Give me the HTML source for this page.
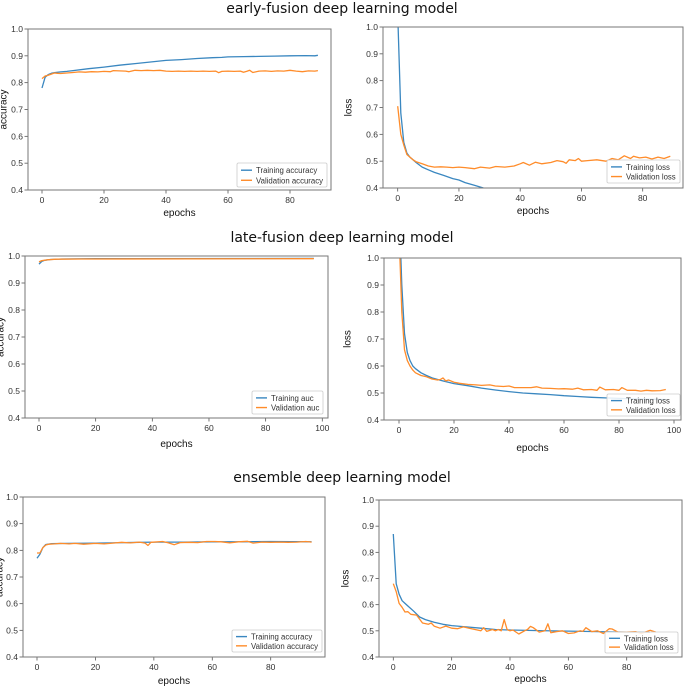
<!DOCTYPE html>
<html><head><meta charset="utf-8"><style>
body{margin:0;background:#fff;width:685px;height:686px;overflow:hidden}
svg{display:block}
text{font-family:"Liberation Sans","DejaVu Sans",sans-serif;fill:#333}
</style></head><body>
<svg id="fig" width="685" height="686"></svg>
<script>
// ---- data ----
const p1TrainX=[0,1,2,3,4,6,8,10,15,20,25,30,35,40,45,50,55,58,60,65,70,75,80,85,88,89];
const p1TrainY=[0.78,0.82,0.83,0.835,0.837,0.84,0.842,0.845,0.852,0.858,0.865,0.871,0.877,0.883,0.886,0.89,0.893,0.894,0.896,0.897,0.898,0.899,0.9,0.901,0.9,0.902];
const p1ValX=[0,1,2,3,4,5,6,8,10,12,14,16,18,20,22,23,25,27,28,30,32,34,36,38,40,42,44,46,48,50,52,54,56,57,58,60,62,64,65,66,67,68,70,72,74,76,78,80,82,84,86,88,89];
const p1ValY=[0.815,0.825,0.828,0.832,0.836,0.835,0.834,0.836,0.838,0.84,0.839,0.841,0.84,0.842,0.841,0.845,0.844,0.843,0.841,0.846,0.845,0.846,0.845,0.846,0.843,0.842,0.843,0.842,0.843,0.842,0.843,0.842,0.843,0.837,0.842,0.843,0.842,0.843,0.839,0.842,0.846,0.838,0.843,0.844,0.842,0.844,0.843,0.846,0.843,0.841,0.844,0.843,0.845];
const p2TrainX=[0,1,2,3,4,5,6,8,10,12,15,18,20,22,25,28,30];
const p2TrainY=[1.05,0.68,0.57,0.53,0.515,0.505,0.495,0.478,0.468,0.458,0.447,0.435,0.43,0.42,0.41,0.4,0.395];
const p2ValX=[0,1,2,3,4,5,6,8,10,12,14,16,18,20,22,25,27,30,32,35,38,40,41,43,45,47,50,52,54,55,56,58,59,60,62,65,68,70,72,74,76,77,79,81,83,85,87,89];
const p2ValY=[0.705,0.6,0.56,0.525,0.515,0.505,0.498,0.49,0.482,0.478,0.479,0.478,0.476,0.478,0.476,0.472,0.478,0.474,0.48,0.478,0.482,0.49,0.495,0.485,0.496,0.49,0.495,0.502,0.498,0.492,0.505,0.502,0.51,0.5,0.502,0.505,0.5,0.51,0.505,0.52,0.51,0.518,0.512,0.515,0.508,0.515,0.51,0.518];
const p3TrainX=[0,1,2,4,8,20,97];
const p3TrainY=[0.97,0.98,0.984,0.987,0.989,0.99,0.991];
const p3ValX=[0,1,3,6,15,97];
const p3ValY=[0.978,0.983,0.986,0.988,0.989,0.99];
const p4TrainX=[0,1,2,3,4,5,6,8,10,12,15,20,25,30,35,40,45,50,55,60,65,70,75,80,85,90,97];
const p4TrainY=[1.2,0.9,0.72,0.65,0.62,0.6,0.59,0.575,0.565,0.556,0.547,0.535,0.527,0.518,0.511,0.505,0.5,0.497,0.494,0.49,0.487,0.484,0.482,0.48,0.478,0.477,0.476];
const p4ValX=[0,1,2,3,4,5,6,8,10,12,14,15,16,17,18,20,22,25,28,30,33,35,38,40,42,45,48,50,52,55,58,60,63,65,67,70,72,73,75,78,80,81,83,86,88,90,92,95,97];
const p4ValY=[1.1,0.8,0.66,0.62,0.6,0.585,0.575,0.565,0.56,0.552,0.548,0.55,0.556,0.545,0.548,0.54,0.536,0.532,0.53,0.528,0.53,0.526,0.524,0.526,0.52,0.52,0.52,0.523,0.518,0.517,0.515,0.516,0.514,0.518,0.512,0.513,0.51,0.522,0.512,0.513,0.51,0.52,0.51,0.51,0.507,0.51,0.508,0.509,0.513];
const p5TrainX=[0,1,2,3,5,10,20,30,40,50,60,70,80,94];
const p5TrainY=[0.77,0.785,0.81,0.822,0.825,0.826,0.827,0.829,0.831,0.831,0.832,0.832,0.833,0.832];
const p5ValX=[0,1,2,3,4,6,8,11,13,16,20,23,26,29,32,35,37,38,39,43,45,47,49,52,55,58,61,63,66,69,72,74,77,80,83,86,89,92,94];
const p5ValY=[0.79,0.79,0.81,0.82,0.823,0.824,0.826,0.824,0.826,0.823,0.826,0.824,0.827,0.83,0.828,0.831,0.827,0.818,0.83,0.833,0.828,0.821,0.829,0.83,0.829,0.833,0.833,0.832,0.828,0.832,0.834,0.827,0.831,0.83,0.831,0.83,0.831,0.833,0.831];
const p6TrainX=[0,1,2,3,4,5,7,9,11,14,17,20,25,30,35,40,50,60,70,80,88];
const p6TrainY=[0.87,0.68,0.64,0.615,0.605,0.595,0.575,0.553,0.543,0.533,0.525,0.52,0.515,0.51,0.505,0.503,0.501,0.499,0.497,0.495,0.494];
const p6ValX=[0,1,2,3,4,5,6,8,10,12,13,14,16,18,20,22,24,26,28,30,31,32,34,35,36,37,38,39,40,41,43,45,46,47,48,50,52,53,54,56,58,60,62,64,65,66,68,70,72,74,75,77,80,83,85,88,90];
const p6ValY=[0.68,0.65,0.605,0.59,0.572,0.573,0.563,0.56,0.53,0.525,0.53,0.518,0.51,0.518,0.51,0.508,0.515,0.51,0.505,0.5,0.512,0.498,0.505,0.5,0.505,0.5,0.543,0.505,0.5,0.503,0.488,0.5,0.505,0.517,0.512,0.495,0.5,0.527,0.493,0.497,0.5,0.49,0.492,0.5,0.498,0.512,0.497,0.5,0.49,0.508,0.507,0.495,0.495,0.497,0.49,0.502,0.495];
const yTicks=[0.4,0.5,0.6,0.7,0.8,0.9,1.0];
const xTicks80=[0,20,40,60,80];
const xTicks100=[0,20,40,60,80,100];

const panels=[
 {id:'early-accuracy',L:28,R:331,T:29,B:190,x0:42,x1:290,xv1:80,xt:xTicks80,yl:'accuracy',ylx:4,xly:216,lg:[237,163,90,24],n1:'Training accuracy',n2:'Validation accuracy',s:[[p1TrainX,p1TrainY],[p1ValX,p1ValY]]},
 {id:'early-loss',L:383,R:683,T:27,B:188,x0:397.7,x1:642.7,xv1:80,xt:xTicks80,yl:'loss',ylx:349,xly:214,lg:[607,160,73,23],n1:'Training loss',n2:'Validation loss',s:[[p2TrainX,p2TrainY],[p2ValX,p2ValY]]},
 {id:'late-auc',L:25,R:328,T:256,B:418,x0:39,x1:322.3,xv1:100,xt:xTicks100,yl:'accuracy',ylx:1,xly:447,lg:[252,391,71,23],n1:'Training auc',n2:'Validation auc',s:[[p3TrainX,p3TrainY],[p3ValX,p3ValY]]},
 {id:'late-loss',L:384,R:681,T:258,B:420,x0:399,x1:674,xv1:100,xt:xTicks100,yl:'loss',ylx:348,xly:451,lg:[607,394,73,22],n1:'Training loss',n2:'Validation loss',s:[[p4TrainX,p4TrainY],[p4ValX,p4ValY]]},
 {id:'ensemble-accuracy',L:23,R:325,T:497,B:657,x0:37,x1:270.7,xv1:80,xt:xTicks80,yl:'accuracy',ylx:0,xly:684,lg:[232,630,90,22],n1:'Training accuracy',n2:'Validation accuracy',s:[[p5TrainX,p5TrainY],[p5ValX,p5ValY]]},
 {id:'ensemble-loss',L:379,R:682,T:500,B:657,x0:393.3,x1:626.7,xv1:80,xt:xTicks80,yl:'loss',ylx:346,xly:682,lg:[605,632,73,21],n1:'Training loss',n2:'Validation loss',s:[[p6TrainX,p6TrainY],[p6ValX,p6ValY]]}
];
const titles=[['early-fusion deep learning model',13,'title-early-fusion'],['late-fusion deep learning model',242,'title-late-fusion'],['ensemble deep learning model',482,'title-ensemble']];
const NS='http://www.w3.org/2000/svg';
const svg=document.getElementById('fig');
function mk(tag,attrs,parent,txt){const e=document.createElementNS(NS,tag);for(const k in attrs)e.setAttribute(k,attrs[k]);if(txt!==undefined)e.textContent=txt;(parent||svg).appendChild(e);return e;}
titles.forEach(t=>{
 const e=mk('text',{x:342,y:t[1],'text-anchor':'middle','font-size':'14','style':'fill:#111;font-family:\"DejaVu Sans\",sans-serif'},svg,t[0]);
 
 
});
const colors=['#3a87c0','#ff8c2a'];
panels.forEach((p,pi)=>{
 const g=mk('g',{});
 
 
 const sx=v=>p.x0+(v/p.xv1)*(p.x1-p.x0);
 const sy=v=>p.B-(v-0.4)/0.6*(p.B-p.T);
 const cid='clip'+pi;
 const cp=mk('clipPath',{id:cid},g);mk('rect',{x:p.L,y:p.T,width:p.R-p.L,height:p.B-p.T},cp);
 yTicks.forEach(v=>{
  mk('line',{x1:p.L-3.5,x2:p.L,y1:sy(v),y2:sy(v),stroke:'#555','stroke-width':0.8},g);
  const t=mk('text',{x:p.L-5,y:sy(v)+3,'text-anchor':'end','font-size':'8.5'},g,v.toFixed(1));
  
  
 });
 p.xt.forEach(v=>{
  mk('line',{x1:sx(v),x2:sx(v),y1:p.B,y2:p.B+3.5,stroke:'#555','stroke-width':0.8},g);
  const t=mk('text',{x:sx(v),y:p.B+13,'text-anchor':'middle','font-size':'8.5'},g,String(v));
  
  
 });
 const xl=mk('text',{x:(p.L+p.R)/2,y:p.xly,'text-anchor':'middle','font-size':'10','style':'fill:#111'},g,'epochs');
 
 
 const cy=(p.T+p.B)/2;
 const yl=mk('text',{x:p.ylx,y:cy,'text-anchor':'middle','font-size':'10','transform':`rotate(-90 ${p.ylx} ${cy})`,'dominant-baseline':'middle','style':'fill:#111'},g,p.yl);
 
 
 p.s.forEach((s,si)=>{
  const d=s[0].map((x,i)=>(i?'L':'M')+sx(x).toFixed(1)+','+sy(s[1][i]).toFixed(1)).join(' ');
  const path=mk('path',{d:d,fill:'none',stroke:colors[si],'stroke-width':1.3,'clip-path':`url(#${cid})`,'stroke-linejoin':'round'},g);
  
  
 });
 mk('rect',{x:p.L,y:p.T,width:p.R-p.L,height:p.B-p.T,fill:'none',stroke:'#777','stroke-width':1},g);
 const [lx,ly,lw,lh]=p.lg;
 const lgG=mk('g',{},g);
 
 
 mk('rect',{x:lx,y:ly,width:lw,height:lh,fill:'#fff','fill-opacity':0.85,stroke:'#ccc','stroke-width':0.8,rx:1.5},lgG);
 [p.n1,p.n2].forEach((n,i)=>{
  const yy=ly+lh*(i?0.72:0.3);
  mk('line',{x1:lx+4,x2:lx+15,y1:yy,y2:yy,stroke:colors[i],'stroke-width':1.4},lgG);
  const t=mk('text',{x:lx+19,y:yy+3,'font-size':'7.8'},lgG,n);
  
  
 });
});
</script>
</body></html>
